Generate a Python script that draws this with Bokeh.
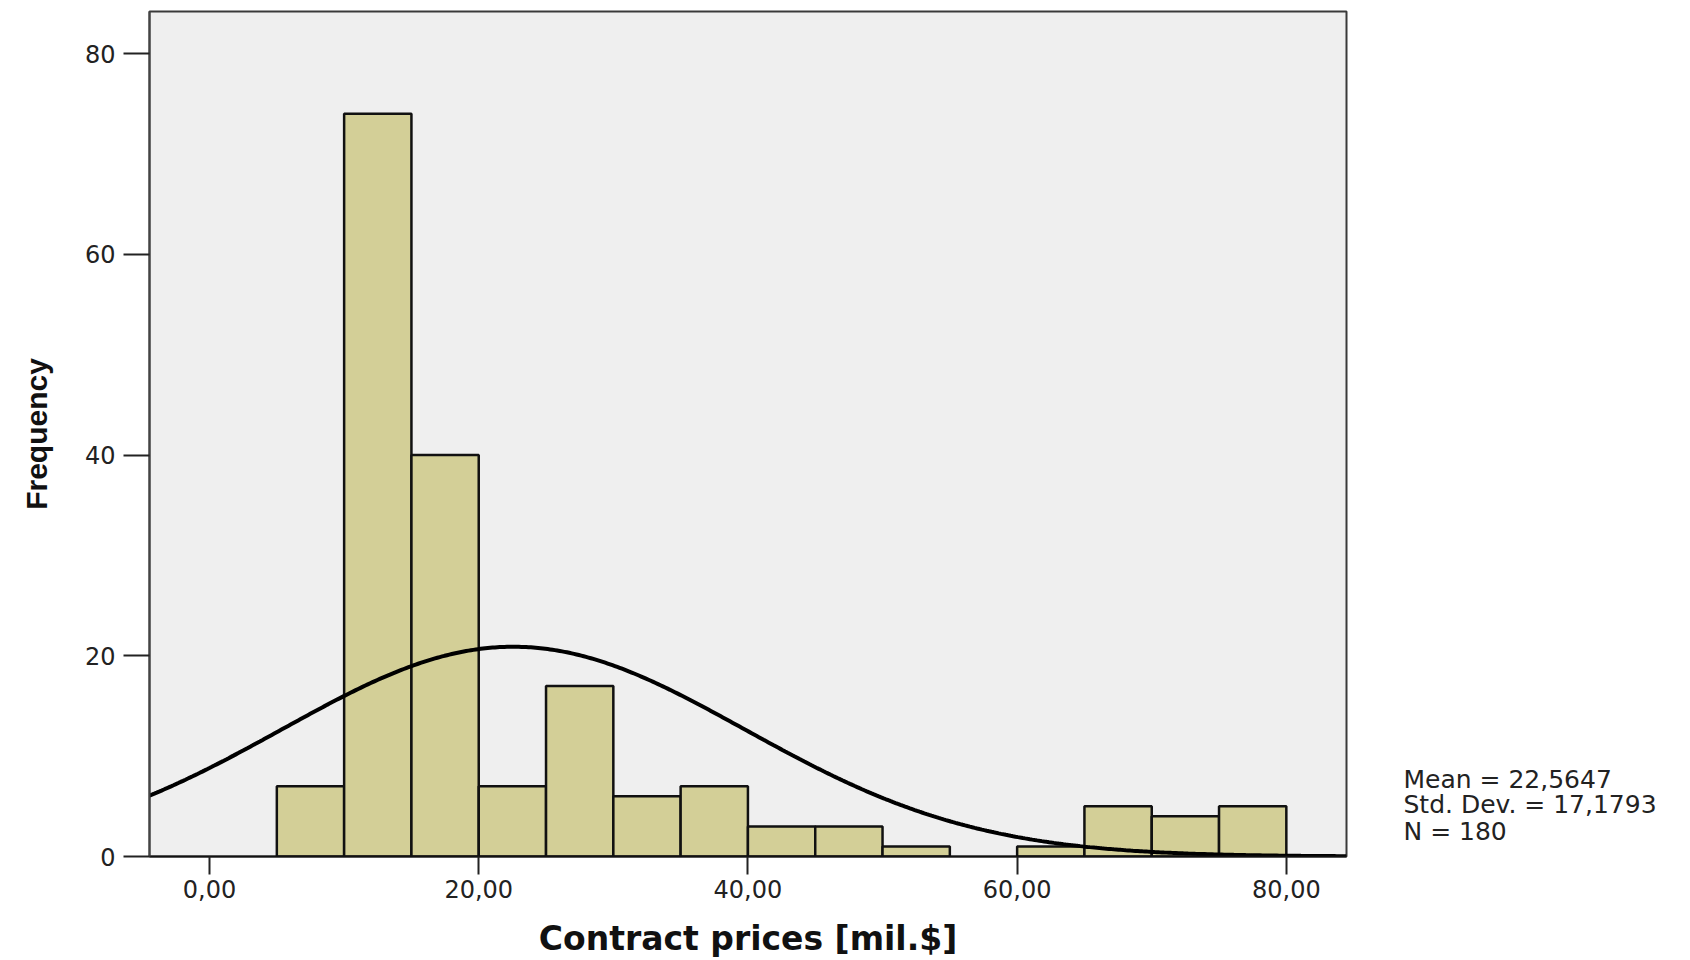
import numpy as np
from bokeh.plotting import figure
from bokeh.layouts import row
from bokeh.models import Range1d, FixedTicker
from bokeh.embed import file_html
from bokeh.resources import INLINE

# ---- data ----
bin_left = [5, 10, 15, 20, 25, 30, 35, 40, 45, 50, 55, 60, 65, 70, 75]
bin_right = [10, 15, 20, 25, 30, 35, 40, 45, 50, 55, 60, 65, 70, 75, 80]
counts = [7, 74, 40, 7, 17, 6, 7, 3, 3, 1, 0, 1, 5, 4, 5]
x_ticks = [0, 20, 40, 60, 80]
x_tick_labels = ["0,00", "20,00", "40,00", "60,00", "80,00"]
y_ticks = [0, 20, 40, 60, 80]
mean_value = 22.5647
std_value = 17.1793
n_value = 180
bin_width = 5

x_start, x_end = -4.46, 84.47
y_start, y_end = 0, 84.2

H = 960
W_MAIN = 1350
W_SIDE = 340
B_TOP, B_BOTTOM = 11, 103

y_range = Range1d(y_start, y_end)

p = figure(width=W_MAIN, height=H, output_backend="svg", toolbar_location=None,
           x_range=Range1d(x_start, x_end), y_range=y_range,
           min_border_left=149, min_border_right=4, min_border_top=B_TOP,
           min_border_bottom=B_BOTTOM)
p.border_fill_color = "white"
p.background_fill_color = "#efefef"
p.outline_line_color = "#3a3a3a"
p.outline_line_width = 2
p.xgrid.visible = False
p.ygrid.visible = False

# bars (skip empty bins)
bl = [l for l, c in zip(bin_left, counts) if c > 0]
br = [r for r, c in zip(bin_right, counts) if c > 0]
bc = [c for c in counts if c > 0]
p.quad(left=bl, right=br, bottom=0, top=bc, fill_color="#d3cf97",
       line_color="#111111", line_width=2.5)

# normal curve fitted from the stated mean / sd / N
xs = np.linspace(x_start, x_end, 500)
ys = n_value * bin_width / (std_value * np.sqrt(2 * np.pi)) * np.exp(-0.5 * ((xs - mean_value) / std_value) ** 2)
p.line(xs, ys, line_color="black", line_width=4)

# axes
xa = p.xaxis[0]
xa.ticker = FixedTicker(ticks=x_ticks)
xa.major_label_overrides = {t: s for t, s in zip(x_ticks, x_tick_labels)}
xa.minor_tick_line_color = None
xa.major_tick_out = 18
xa.major_tick_in = 0
xa.major_tick_line_width = 2
xa.major_tick_line_color = "#222222"
xa.axis_line_color = "#111111"
xa.axis_line_width = 2
xa.major_label_text_font = "DejaVu Sans"
xa.major_label_text_font_size = "24px"
xa.major_label_text_color = "#222222"
xa.major_label_standoff = 5
xa.axis_label = "Contract prices [mil.$]"
xa.axis_label_text_font = "DejaVu Sans"
xa.axis_label_text_font_style = "bold"
xa.axis_label_text_font_size = "33px"
xa.axis_label_text_color = "#111111"
xa.axis_label_standoff = 18

ya = p.yaxis[0]
ya.ticker = FixedTicker(ticks=y_ticks)
ya.minor_tick_line_color = None
ya.major_tick_out = 26
ya.major_tick_in = 0
ya.major_tick_line_width = 2
ya.major_tick_line_color = "#222222"
ya.axis_line_color = "#444444"
ya.axis_line_width = 2
ya.major_label_text_font = "DejaVu Sans"
ya.major_label_text_font_size = "24px"
ya.major_label_text_color = "#222222"
ya.major_label_standoff = 8
ya.axis_label = "Frequency"
ya.axis_label_text_font = "Liberation Sans"
ya.axis_label_text_font_style = "bold"
ya.axis_label_text_font_size = "30px"
ya.axis_label_text_color = "#111111"
ya.axis_label_standoff = 29

# statistics text, in a side panel sharing the y scale
stat_lines = [
    "Mean = " + f"{mean_value:.4f}".replace(".", ","),
    "Std. Dev. = " + f"{std_value:.4f}".replace(".", ","),
    "N = " + str(n_value),
]
stat_y = [7.66, 5.17, 2.49]

s = figure(width=W_SIDE, height=H, output_backend="svg", toolbar_location=None,
           x_range=Range1d(0, W_SIDE), y_range=y_range,
           min_border_left=0, min_border_right=0, min_border_top=B_TOP,
           min_border_bottom=B_BOTTOM)
s.axis.visible = False
s.xgrid.visible = False
s.ygrid.visible = False
s.outline_line_color = None
s.background_fill_color = "white"
s.border_fill_color = "white"
s.text(x=[53] * len(stat_lines), y=stat_y, text=stat_lines,
       text_font={"value": "DejaVu Sans"}, text_font_size="25px",
       text_color="#222222", text_baseline="middle", text_align="left")

layout = row(p, s, spacing=0)
open("out.html", "w").write(file_html(layout, INLINE))
